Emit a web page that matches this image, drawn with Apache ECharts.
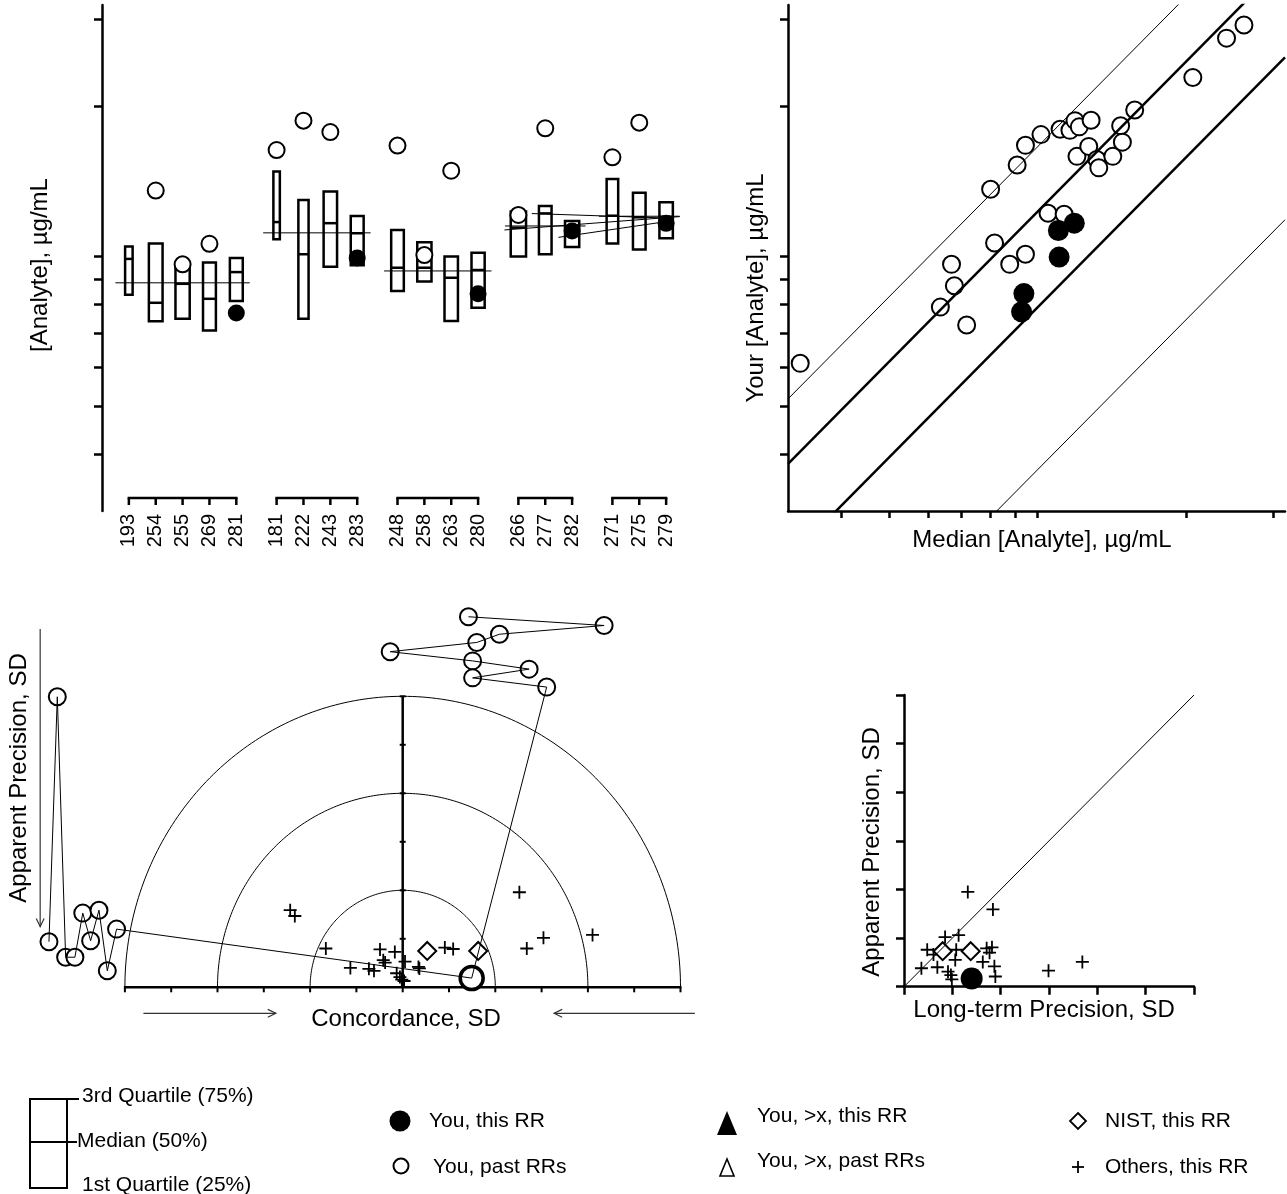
<!DOCTYPE html>
<html>
<head>
<meta charset="utf-8">
<title>Round robin summary</title>
<script src="https://cdn.jsdelivr.net/npm/echarts@6.0.0/dist/echarts.min.js"></script>
<style>
html,body{margin:0;padding:0;background:#fff;}
#chart{width:1287px;height:1194px;}
</style>
</head>
<body>
<div id="chart"></div>
<script>
// ================= DATA =================
// Panel 1: per-sample box plots, grouped
const rrLabels   = ['193','254','255','269','281','181','222','243','283','248','258','263','280','266','277','282','271','275','279'];
const groupSizes = [5,4,4,3,3];
const boxQ3  = [10.47,10.61,9.64,9.72,9.93, 14.81,12.98,13.50,12.05, 11.30,10.67,9.99,10.17, 12.30,12.63,11.78, 14.30,13.42,12.84];
const boxMed = [9.885,8.07,8.81,8.22,9.30, 11.72,10.10,11.66,11.13, 9.49,9.49,9.06,9.39, 11.42,12.20,11.24, 12.07,11.98,12.01];
const boxQ1  = [8.38,7.41,7.50,7.10,8.14, 10.82,7.50,9.53,9.60, 8.52,8.90,7.42,7.89, 9.99,10.10,10.45, 10.62,10.33,10.87];
const boxRelWidth = [0.28,0.51,0.53,0.48,0.48, 0.24,0.38,0.50,0.48, 0.47,0.53,0.50,0.49, 0.57,0.47,0.53, 0.43,0.47,0.50];
const youPastP1 = [null,13.56,9.64,10.60,null, 16.35,18.73,17.77,null, 16.69,10.06,14.86,null, 12.11,18.08,null, 15.81,18.56,null];
const youThisP1 = [null,null,null,null,7.70, null,null,null,9.93, null,null,null,8.41, null,null,11.24, null,null,11.65];
const groupConsensus = [8.85,11.15,9.35,11.51,12.04];
// extra connecting lines: [fromSlot, fromValue, toSlot, toValue]
const crossLines = [[13.98,11.30,20.51,12.02],[15.0,12.19,20.03,11.94],[15.99,10.92,20.02,11.75]];
const logTicks = [4,5,6,7,8,9,10,20,30];

// Panel 2: your value vs median (log-log)
const youPastP2 = [[3.30,6.10],[6.35,7.91],[6.69,9.64],[6.78,8.73],[7.18,7.28],[8.03,13.64],[8.18,10.64],[8.78,9.64],
  [9.09,15.26],[9.45,16.71],[9.45,10.10],[10.16,17.56],[10.50,12.21],[11.11,18.0],[11.32,12.15],[11.63,17.91],
  [11.91,18.73],[12.02,15.88],[12.15,18.20],[12.70,16.63],[12.84,18.76],[13.19,15.65],[13.31,15.06],[14.21,15.88],
  [14.74,18.30],[14.86,16.96],[15.74,19.68],[20.65,22.87],[24.17,27.43],[26.22,29.15]];
const youThisP2 = [[11.02,11.27],[11.87,11.66],[11.06,9.97],[9.38,8.42],[9.28,7.74]];
const bandFactors = [1.66,1.23,0.79,0.373];
const bandWidths  = [1,2.5,2.5,1];

// Panel 3: concordance / apparent precision
const ringRadii = [2,4,6];
const leftPathPast = [[-7.64,0.94],[-7.46,5.99],[-7.28,0.62],[-7.08,0.62],[-6.91,1.53],[-6.74,0.96],[-6.56,1.59],[-6.38,0.34],[-6.18,1.20]];
const topPathPast  = [[1.42,7.64],[4.35,7.46],[2.09,7.28],[1.60,7.11],[-0.27,6.92],[1.51,6.73],[2.73,6.56],[1.51,6.38],[3.11,6.19]];
const youThisP3 = [1.49,0.19];
const nistP3 = [[0.53,0.75],[1.63,0.75]];
const othersP3 = [[-2.43,1.59],[-2.33,1.47],[-1.66,0.80],[-1.13,0.40],[-0.73,0.38],[-0.62,0.34],[-0.49,0.78],[-0.42,0.56],
  [-0.38,0.51],[-0.17,0.73],[-0.13,0.29],[-0.06,0.21],[-0.02,0.16],[0.03,0.13],[0.05,0.53],[0.34,0.42],[0.36,0.39],
  [0.91,0.82],[1.09,0.79],[2.52,1.96],[2.68,0.80],[3.04,1.02],[4.10,1.08]];

// Panel 4: long-term vs apparent precision
const othersP4 = [[1.32,1.95],[1.84,1.59],[0.85,1.02],[1.13,1.06],[0.48,0.76],[0.61,0.66],[1.08,0.76],[1.71,0.79],
  [1.82,0.81],[1.77,0.70],[1.06,0.55],[1.63,0.51],[0.36,0.38],[0.69,0.40],[0.91,0.31],[0.97,0.24],[0.99,0.15],
  [1.87,0.42],[1.89,0.21],[2.99,0.33],[3.69,0.51]];
const nistP4 = [[0.80,0.73],[1.38,0.73]];
const youThisP4 = [1.40,0.17];

// ================= BUILD =================
const FONT = '"Liberation Sans", Arial, Helvetica, sans-serif';
const BLACK = '#000';
const PLUS = 'path://M0,5H10M5,0V10';

// slot positions: 1 per sample, extra 0.5 gap between groups
const rrSlots = [];
const groupRanges = [];
(function(){ let s = 0; groupSizes.forEach((n) => { const start = s; for (let k=0;k<n;k++){ rrSlots.push(s); if (k<n-1) s+=1; } groupRanges.push([start, s]); s += 1.5; }); })();

const boxData = rrSlots.map((s,i)=>[s, boxQ1[i], boxMed[i], boxQ3[i], boxRelWidth[i]]);
const pastP1 = rrSlots.map((s,i)=>youPastP1[i]==null?null:[s,youPastP1[i]]).filter(Boolean);
const thisP1 = rrSlots.map((s,i)=>youThisP1[i]==null?null:[s,youThisP1[i]]).filter(Boolean);
const consensusData = groupRanges.map((r,g)=>[r[0]-0.5, r[1]+0.5, groupConsensus[g]]);

const P2MIN = 3.117, P2MAX = 31.76, YMIN = 3.082, YMAX = 31.97;

function logAxis(gridIndex, isX, min, max){
  return {
    gridIndex, type:'log', logBase:10, min, max,
    axisLine:{show:true, onZero:false, lineStyle:{color:BLACK, width:2.5}},
    axisTick:{show:true, customValues:logTicks, length: isX?7:8, inside:false, lineStyle:{color:BLACK, width:2.5}},
    axisLabel:{show:false}, splitLine:{show:false}, minorTick:{show:false}
  };
}
function linAxis(gridIndex){
  return {
    gridIndex, type:'value', min:0, max:6, interval:1,
    axisLine:{show:true, onZero:false, lineStyle:{color:BLACK, width:2.5}},
    axisTick:{show:true, length:8, lineStyle:{color:BLACK, width:2.5}},
    axisLabel:{show:false}, splitLine:{show:false}
  };
}

const openCircle = (size, lw) => ({symbol:'circle', symbolSize:size, itemStyle:{color:'#fff', borderColor:BLACK, borderWidth:lw, opacity:1}});
const filledCircle = (size) => ({symbol:'circle', symbolSize:size, itemStyle:{color:BLACK, borderColor:BLACK, borderWidth:0, opacity:1}});

const series = [];

// ---- Panel 1 ----
series.push({
  type:'custom', xAxisIndex:0, yAxisIndex:0, silent:true,
  data: groupRanges.map(r=>[r[0], r[1], 10]), encode:{x:[0,1], y:2},
  renderItem:(params, api)=>{
    const a = api.value(0), b = api.value(1);
    const cs = params.coordSys; const yb = cs.y + cs.height - 13;
    const xa = api.coord([a,10])[0], xb = api.coord([b,10])[0];
    const ch = [{type:'line', shape:{x1:xa-1.25,y1:yb,x2:xb+1.25,y2:yb}, style:{stroke:BLACK, lineWidth:2.5}}];
    for (let s=a; s<=b+1e-6; s+=1){ const xs = api.coord([s,10])[0]; ch.push({type:'line', shape:{x1:xs,y1:yb,x2:xs,y2:yb+7}, style:{stroke:BLACK,lineWidth:2.5}}); }
    return {type:'group', children:ch};
  }
});
series.push({
  type:'custom', xAxisIndex:0, yAxisIndex:0, silent:true,
  data: consensusData, encode:{x:[0,1], y:2},
  renderItem:(params, api)=>{
    const p0 = api.coord([api.value(0), api.value(2)]), p1 = api.coord([api.value(1), api.value(2)]);
    return {type:'line', shape:{x1:p0[0],y1:p0[1],x2:p1[0],y2:p1[1]}, style:{stroke:BLACK, lineWidth:1}};
  }
});
series.push({
  type:'custom', xAxisIndex:0, yAxisIndex:0, silent:true,
  data: crossLines, encode:{x:[0,2], y:[1,3]},
  renderItem:(params, api)=>{
    const p0 = api.coord([api.value(0), api.value(1)]), p1 = api.coord([api.value(2), api.value(3)]);
    return {type:'line', shape:{x1:p0[0],y1:p0[1],x2:p1[0],y2:p1[1]}, style:{stroke:BLACK, lineWidth:1}};
  }
});
series.push({
  type:'custom', xAxisIndex:0, yAxisIndex:0, silent:true,
  data: boxData, encode:{x:0, y:[1,2,3]},
  renderItem:(params, api)=>{
    const x = api.value(0), lo = api.value(1), md = api.value(2), hi = api.value(3), rw = api.value(4);
    const pLo = api.coord([x,lo]), pHi = api.coord([x,hi]), pMd = api.coord([x,md]);
    const unit = api.coord([x+1,md])[0] - pMd[0];
    const w = unit*rw;
    return {type:'group', children:[
      {type:'rect', shape:{x:pLo[0]-w/2, y:pHi[1], width:w, height:pLo[1]-pHi[1]}, style:{fill:'none', stroke:BLACK, lineWidth:2.5}},
      {type:'line', shape:{x1:pLo[0]-w/2, y1:pMd[1], x2:pLo[0]+w/2, y2:pMd[1]}, style:{stroke:BLACK, lineWidth:2.5}}
    ]};
  }
});
series.push(Object.assign({type:'scatter', xAxisIndex:0, yAxisIndex:0, silent:true, data:pastP1}, openCircle(16,2)));
series.push(Object.assign({type:'scatter', xAxisIndex:0, yAxisIndex:0, silent:true, data:thisP1}, filledCircle(17)));

// ---- Panel 2 ----
bandFactors.forEach((k,i)=>{
  series.push({type:'line', xAxisIndex:1, yAxisIndex:1, silent:true, symbol:'none', clip:true,
    data:[[P2MIN, k*P2MIN],[P2MAX, k*P2MAX]], lineStyle:{color:BLACK, width:bandWidths[i]}});
});
series.push(Object.assign({type:'scatter', xAxisIndex:1, yAxisIndex:1, silent:true, data:youPastP2}, openCircle(17,2)));
series.push(Object.assign({type:'scatter', xAxisIndex:1, yAxisIndex:1, silent:true, data:youThisP2}, filledCircle(21)));

// ---- Panel 3 ----
series.push({
  type:'custom', xAxisIndex:2, yAxisIndex:2, silent:true,
  data: ringRadii.map(r=>[r,0]),
  renderItem:(params, api)=>{
    const r = api.value(0), pts = [];
    for (let k=0;k<=180;k++){ const a = Math.PI*k/180; pts.push(api.coord([r*Math.cos(a), r*Math.sin(a)])); }
    return {type:'polyline', shape:{points:pts}, style:{stroke:BLACK, fill:'none', lineWidth:1}};
  }
});
const R = ringRadii[ringRadii.length-1];
series.push({
  type:'custom', xAxisIndex:2, yAxisIndex:2, silent:true, data:[[0,0]],
  renderItem:(params, api)=>{
    const ch = [];
    const a = api.coord([-R,0]), b = api.coord([R,0]);
    ch.push({type:'line', shape:{x1:a[0]-1,y1:a[1],x2:b[0]+1,y2:b[1]}, style:{stroke:BLACK,lineWidth:2.5}});
    for (let t=-R;t<=R;t++){ const p = api.coord([t,0]); ch.push({type:'line', shape:{x1:p[0],y1:p[1],x2:p[0],y2:p[1]+5}, style:{stroke:BLACK,lineWidth:2}}); }
    const c = api.coord([0,0]), top = api.coord([0,R]);
    ch.push({type:'line', shape:{x1:c[0],y1:c[1],x2:top[0],y2:top[1]}, style:{stroke:BLACK,lineWidth:2.5}});
    for (let t=1;t<=R;t++){ const p = api.coord([0,t]); ch.push({type:'line', shape:{x1:p[0]-3,y1:p[1],x2:p[0]+3,y2:p[1]}, style:{stroke:BLACK,lineWidth:2}}); }
    // direction arrows (annotation)
    const arrows = [[-5.6,-0.536,-2.74,-0.536],[6.31,-0.536,3.27,-0.536],[-7.83,7.39,-7.83,1.25]];
    arrows.forEach(ar=>{
      const p0 = api.coord([ar[0],ar[1]]), p1 = api.coord([ar[2],ar[3]]);
      const ang = Math.atan2(p1[1]-p0[1], p1[0]-p0[0]); const L = 9, sp = 0.45;
      ch.push({type:'line', shape:{x1:p0[0],y1:p0[1],x2:p1[0],y2:p1[1]}, style:{stroke:'#333',lineWidth:1.2}});
      ch.push({type:'polyline', shape:{points:[[p1[0]-L*Math.cos(ang-sp), p1[1]-L*Math.sin(ang-sp)],[p1[0],p1[1]],[p1[0]-L*Math.cos(ang+sp), p1[1]-L*Math.sin(ang+sp)]]}, style:{stroke:'#333',fill:'none',lineWidth:1.2}});
    });
    return {type:'group', children:ch};
  }
});
series.push({type:'line', xAxisIndex:2, yAxisIndex:2, silent:true, showSymbol:false, symbol:'none', data:leftPathPast.concat([youThisP3]), lineStyle:{color:BLACK,width:1}});
series.push({type:'line', xAxisIndex:2, yAxisIndex:2, silent:true, showSymbol:false, symbol:'none', data:topPathPast.concat([youThisP3]), lineStyle:{color:BLACK,width:1}});
series.push({type:'scatter', xAxisIndex:2, yAxisIndex:2, silent:true, data:othersP3, symbol:PLUS, symbolSize:13, itemStyle:{color:BLACK, borderColor:BLACK, borderWidth:1.8, opacity:1}});
series.push({type:'scatter', xAxisIndex:2, yAxisIndex:2, silent:true, data:nistP3, symbol:'diamond', symbolSize:18, itemStyle:{color:'#fff', borderColor:BLACK, borderWidth:2, opacity:1}});
series.push(Object.assign({type:'scatter', xAxisIndex:2, yAxisIndex:2, silent:true, data:leftPathPast.concat(topPathPast)}, openCircle(17,2)));
series.push(Object.assign({type:'scatter', xAxisIndex:2, yAxisIndex:2, silent:true, data:[youThisP3]}, openCircle(23,3.5)));

// ---- Panel 4 ----
series.push({type:'line', xAxisIndex:3, yAxisIndex:3, silent:true, symbol:'none', data:[[0,0],[6,6]], lineStyle:{color:BLACK,width:1}});
series.push({type:'scatter', xAxisIndex:3, yAxisIndex:3, silent:true, data:othersP4, symbol:PLUS, symbolSize:13, itemStyle:{color:BLACK, borderColor:BLACK, borderWidth:1.8, opacity:1}});
series.push({type:'scatter', xAxisIndex:3, yAxisIndex:3, silent:true, data:nistP4, symbol:'diamond', symbolSize:18, itemStyle:{color:'#fff', borderColor:BLACK, borderWidth:2, opacity:1}});
series.push(Object.assign({type:'scatter', xAxisIndex:3, yAxisIndex:3, silent:true, data:[youThisP4]}, filledCircle(22)));

// ---- Titles & legend (graphic) ----
function T(x, y, text, size, opts){
  opts = opts || {};
  return {type:'text', x, y, rotation: opts.rot || 0, silent:true,
    style:{text, fill:BLACK, font: size+'px '+FONT, align: opts.align || 'center', verticalAlign:'middle'}};
}
const LS = 21, TS = 24;
const graphic = [
  T(40, 265, '[Analyte], µg/mL', TS, {rot:Math.PI/2}),
  T(756, 288, 'Your [Analyte], µg/mL', TS, {rot:Math.PI/2}),
  T(1042, 540, 'Median [Analyte], µg/mL', TS),
  T(19, 778, 'Apparent Precision, SD', TS, {rot:Math.PI/2}),
  T(406, 1019, 'Concordance, SD', TS),
  T(872, 852, 'Apparent Precision, SD', TS, {rot:Math.PI/2}),
  T(1044, 1010, 'Long-term Precision, SD', TS),
  // legend: box
  {type:'rect', silent:true, shape:{x:30, y:1099, width:37, height:89}, style:{fill:'none', stroke:BLACK, lineWidth:2}},
  {type:'line', silent:true, shape:{x1:30,y1:1099,x2:79,y2:1099}, style:{stroke:BLACK,lineWidth:2}},
  {type:'line', silent:true, shape:{x1:30,y1:1142,x2:77,y2:1142}, style:{stroke:BLACK,lineWidth:2}},
  T(82, 1096, '3rd Quartile (75%)', LS, {align:'left'}),
  T(77, 1141, 'Median (50%)', LS, {align:'left'}),
  T(82, 1185, '1st Quartile (25%)', LS, {align:'left'}),
  // legend: symbols
  {type:'circle', silent:true, shape:{cx:400, cy:1121, r:10.5}, style:{fill:BLACK}},
  T(429, 1121, 'You, this RR', LS, {align:'left'}),
  {type:'circle', silent:true, shape:{cx:401, cy:1166, r:7.5}, style:{fill:'#fff', stroke:BLACK, lineWidth:2}},
  T(433, 1167, 'You, past RRs', LS, {align:'left'}),
  {type:'polygon', silent:true, shape:{points:[[727,1111],[737,1135],[717,1135]]}, style:{fill:BLACK}},
  T(757, 1116, 'You, >x, this RR', LS, {align:'left'}),
  {type:'polygon', silent:true, shape:{points:[[727,1159],[734,1176],[720,1176]]}, style:{fill:'#fff', stroke:BLACK, lineWidth:1.6}},
  T(757, 1161, 'You, >x, past RRs', LS, {align:'left'}),
  {type:'polygon', silent:true, shape:{points:[[1078,1113],[1086,1121],[1078,1129],[1070,1121]]}, style:{fill:'#fff', stroke:BLACK, lineWidth:1.8}},
  T(1105, 1121, 'NIST, this RR', LS, {align:'left'}),
  {type:'line', silent:true, shape:{x1:1072,y1:1167,x2:1084,y2:1167}, style:{stroke:BLACK,lineWidth:1.8}},
  {type:'line', silent:true, shape:{x1:1078,y1:1161,x2:1078,y2:1173}, style:{stroke:BLACK,lineWidth:1.8}},
  T(1105, 1167, 'Others, this RR', LS, {align:'left'})
];

const option = {
  animation:false,
  backgroundColor:'#fff',
  textStyle:{fontFamily:FONT},
  grid:[
    {left:102, top:5, width:591, height:506, containLabel:false, outerBoundsMode:'none'},
    {left:788, top:5, width:497, height:506, containLabel:false, outerBoundsMode:'none'},
    {left:9.15, top:599.3, width:694.5, height:436.5, containLabel:false, outerBoundsMode:'none'},
    {left:904, top:695, width:290, height:291.7, containLabel:false, outerBoundsMode:'none'}
  ],
  xAxis:[
    {gridIndex:0, type:'value', min:-1, max:21,
      axisLine:{show:false}, axisTick:{show:false}, splitLine:{show:false},
      axisLabel:{show:true, customValues:rrSlots, rotate:90, margin:3, fontSize:20, color:BLACK, fontFamily:FONT,
        formatter:(v)=>{ const i = rrSlots.findIndex(s=>Math.abs(s-v)<1e-6); return i>=0?rrLabels[i]:''; }}},
    logAxis(1, true, P2MIN, P2MAX),
    {gridIndex:2, type:'value', min:-8.5, max:6.5, show:false},
    linAxis(3)
  ],
  yAxis:[
    logAxis(0, false, YMIN, YMAX),
    logAxis(1, false, YMIN, YMAX),
    {gridIndex:2, type:'value', min:-1, max:8, show:false},
    linAxis(3)
  ],
  series,
  graphic
};

const chart = echarts.init(document.getElementById('chart'), null, {renderer:'canvas', width:1287, height:1194});
chart.setOption(option);
</script>
</body>
</html>
